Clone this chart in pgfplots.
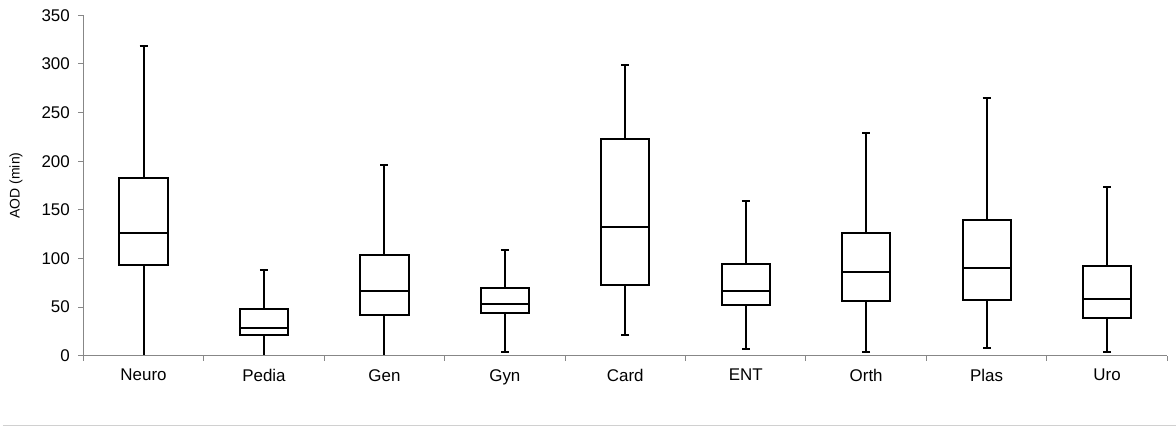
\documentclass[border=0pt]{standalone}
\usepackage{fontspec}
\setmainfont{Liberation Sans}
\usepackage{pgfplots}
\usepackage{pgfplotstable}
\pgfplotsset{compat=1.18}

\definecolor{axisgray}{HTML}{878787}
\definecolor{framegray}{HTML}{D0D0D0}

% five-number summaries of AOD per specialty (minutes)
\pgfplotstableread{
x lo  q1   med   q3    hi
1 0   93   126   183   318
2 0   21   28    47.7  88
3 0   42.2 66.8  103.5 196
4 4.1 43.6 53.2  70    108.4
5 21  73   132.3 223.1 299.2
6 6.6 51.8 66.8  94.3  159
7 3.5 56.6 86.4  126   229
8 8.2 57.3 90.5  139.8 265
9 4.1 38.4 58.3  92.5  173.5
}\aod

\begin{document}
\begin{tikzpicture}
\useasboundingbox (-83.3bp,-71.3bp) rectangle (1092.7bp,355.7bp);
\begin{axis}[
  at={(0,0)}, anchor=south west,
  scale only axis, width=1084bp, height=340.4bp,
  xmin=0.5, xmax=9.5, ymin=0, ymax=350,
  axis x line*=bottom, axis y line*=left,
  axis line style={axisgray, line width=1.1bp},
  axis on top,
  tick align=outside,
  major tick length=5bp,
  tick style={axisgray, line width=1bp},
  ytick={0,50,...,350},
  xtick={0.5,1.5,...,9.5},
  xticklabels={},
  extra x ticks={1,...,9},
  extra x tick labels={Neuro,Pedia,Gen,Gyn,Card,ENT,Orth,Plas,Uro},
  extra x tick style={tick style={draw=none}},
  /pgf/number format/assume math mode=true,
  tick label style={font=\fontsize{17}{20}\selectfont, black},
  xticklabel style={yshift=-5bp},
  yticklabel style={xshift=-5bp},
]
% whiskers with end caps
\addplot[draw=none, mark=none,
  error bars/.cd, y dir=both, y explicit,
  error bar style={black, line width=2bp},
  error mark=-, error mark options={rotate=90, black, line width=2bp, mark size=4bp}]
  table[x=x, y=med,
        y error plus expr=\thisrow{hi}-\thisrow{med},
        y error minus expr=\thisrow{med}-\thisrow{lo}] {\aod};
% interquartile boxes
\addplot[black, fill=white, line width=2bp] coordinates {(0.8,93) (1.2,93) (1.2,183) (0.8,183)} --cycle;
\addplot[black, fill=white, line width=2bp] coordinates {(1.8,21) (2.2,21) (2.2,47.7) (1.8,47.7)} --cycle;
\addplot[black, fill=white, line width=2bp] coordinates {(2.8,42.2) (3.2,42.2) (3.2,103.5) (2.8,103.5)} --cycle;
\addplot[black, fill=white, line width=2bp] coordinates {(3.8,43.6) (4.2,43.6) (4.2,70) (3.8,70)} --cycle;
\addplot[black, fill=white, line width=2bp] coordinates {(4.8,73) (5.2,73) (5.2,223.1) (4.8,223.1)} --cycle;
\addplot[black, fill=white, line width=2bp] coordinates {(5.8,51.8) (6.2,51.8) (6.2,94.3) (5.8,94.3)} --cycle;
\addplot[black, fill=white, line width=2bp] coordinates {(6.8,56.6) (7.2,56.6) (7.2,126) (6.8,126)} --cycle;
\addplot[black, fill=white, line width=2bp] coordinates {(7.8,57.3) (8.2,57.3) (8.2,139.8) (7.8,139.8)} --cycle;
\addplot[black, fill=white, line width=2bp] coordinates {(8.8,38.4) (9.2,38.4) (9.2,92.5) (8.8,92.5)} --cycle;
% medians
\addplot[only marks, mark=-, mark size=24.1bp,
  mark options={black, line width=2bp}]
  table[x=x, y=med] {\aod};
\end{axis}
% y-axis title
\node[rotate=90, font=\fontsize{14}{17}\selectfont, inner sep=0pt]
  at (-67.3bp,170.2bp) {AOD (min)};
% chart-area frame edge
\draw[framegray, line width=1bp] (-80.3bp,-70bp) -- (1092.7bp,-70bp);
\end{tikzpicture}
\end{document}
